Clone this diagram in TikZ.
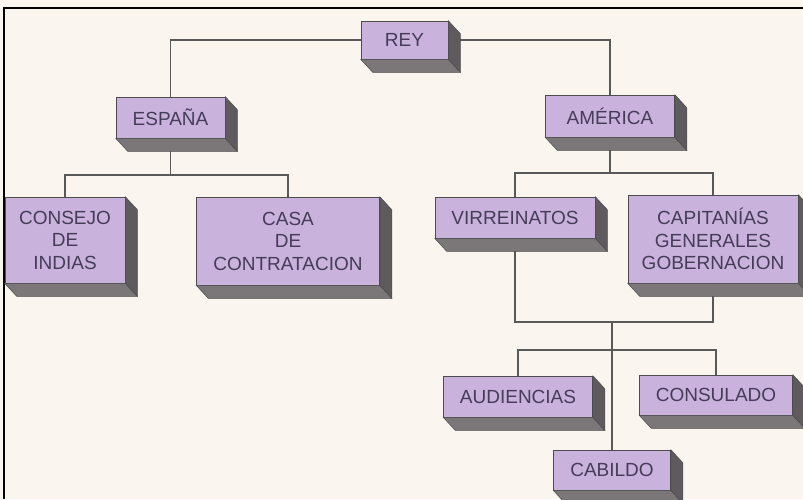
\documentclass[tikz,border=0pt]{standalone}
\usepackage{fontspec}
\setmainfont{Liberation Sans}
\usepackage{tikz}
\definecolor{papel}{HTML}{FAF6EF}
\definecolor{lila}{HTML}{C9B3DD}
\definecolor{tinta}{HTML}{463C58}
\definecolor{fondo}{HTML}{7B7778}
\definecolor{lado}{HTML}{5E5A5D}
\tikzset{
  caja/.style={draw=black!70, line width=0.6pt, fill=lila, text=tinta, inner sep=0pt,
    align=center, font=\fontsize{19}{22.5}\selectfont},
  linea/.style={draw=black!65, line width=1.4pt}
}
\begin{document}
\begin{tikzpicture}[x=1pt,y=-1pt]
\fill[papel] (0,0) rectangle (803,499);
\useasboundingbox (0,0) rectangle (803,499);
\draw[line width=2pt] (4,499) -- (4,8) -- (803,8);
% cajas
\node[caja, minimum width=87, minimum height=38] (rey) at (404.5,40) {REY};
\node[caja, minimum width=109, minimum height=41] (espana) at (170.5,117.5) {ESPAÑA};
\node[caja, minimum width=129, minimum height=42] (america) at (610,116) {AMÉRICA};
\node[caja, minimum width=120, minimum height=86] (consejo) at (65,240) {CONSEJO\\DE\\INDIAS};
\node[caja, minimum width=183, minimum height=88] (casa) at (288,241) {CASA\\DE\\CONTRATACION};
\node[caja, minimum width=160, minimum height=41] (virreinatos) at (515,217.5) {VIRREINATOS};
\node[caja, minimum width=170, minimum height=88] (capitanias) at (713,239) {CAPITANÍAS\\GENERALES\\GOBERNACION};
\node[caja, minimum width=149, minimum height=41] (audiencias) at (518,396.5) {AUDIENCIAS};
\node[caja, minimum width=153, minimum height=40] (consulado) at (716,395) {CONSULADO};
\node[caja, minimum width=117, minimum height=40] (cabildo) at (612,470) {CABILDO};
% uniones
\coordinate (e1) at (170.5,175);
\coordinate (a1) at (610,173);
\coordinate (j1) at (612,322);
\coordinate (j2) at (612,350);
\draw[linea] (rey.west) -| (espana.north);
\draw[linea] (rey.east) -| (america.north);
\draw[linea] (espana.south) -- (e1);
\draw[linea] (consejo.north) |- (e1) -| (casa.north);
\draw[linea] (america.south) -- (a1);
\draw[linea] (virreinatos.north) |- (a1) -| (capitanias.north);
\draw[linea] (virreinatos.south) |- (j1) -| (capitanias.south);
\draw[linea] (j1) -- (cabildo.north);
\draw[linea] (audiencias.north) |- (j2) -| (consulado.north);
% relieve
\foreach \n in {rey,espana,america,consejo,casa,virreinatos,capitanias,audiencias,consulado,cabildo}{
  \filldraw[fill=fondo, draw=black!70, line width=0.5pt] (\n.south west) -- (\n.south east)
    -- ([shift={(12,13)}]\n.south east) -- ([shift={(12,13)}]\n.south west) --cycle;
  \filldraw[fill=lado, draw=black!70, line width=0.5pt] (\n.north east) -- ([shift={(12,13)}]\n.north east)
    -- ([shift={(12,13)}]\n.south east) -- (\n.south east) --cycle;
}
\end{tikzpicture}
\end{document}
